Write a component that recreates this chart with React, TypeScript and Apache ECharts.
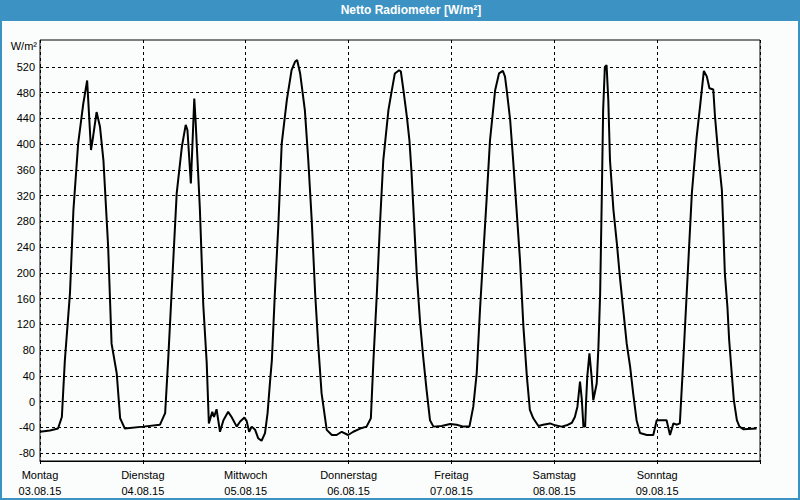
import React, { useEffect, useRef } from "react";
import * as echarts from "echarts";

const chartTitle = "Netto Radiometer [W/m²]";
const unitLabel = "W/m²";
const dayNames = ["Montag", "Dienstag", "Mittwoch", "Donnerstag", "Freitag", "Samstag", "Sonntag"];
const dayDates = ["03.08.15", "04.08.15", "05.08.15", "06.08.15", "07.08.15", "08.08.15", "09.08.15"];

// time in hours since Monday 00:00
const hours = [
  0, 2.3, 4.2, 5.1, 5.8, 7.0, 7.8, 8.9, 10.1, 11.0, 11.9, 12.4, 13.2, 14.0, 14.8, 15.9, 16.7, 17.9, 18.7, 19.8,
  24.1, 28.0, 29.2, 29.9, 31.1, 31.9, 33.1, 34.0, 34.4, 35.2, 35.8, 36.0, 36.3, 37.3, 38.1, 38.9, 39.4, 40.2, 40.6,
  41.2, 42.0, 42.8, 43.9, 44.7, 45.9, 46.7, 47.7, 48.2, 48.8, 49.4, 50.2, 50.9, 51.7, 52.5, 53.1, 53.7, 54.1, 54.8,
  55.6, 56.4, 57.6, 58.7, 59.5, 60.0, 60.7, 61.8, 62.6, 63.4, 64.2, 64.9, 65.7, 66.9, 68.1, 69.2, 70.4, 71.9, 73.1,
  74.7, 76.2, 77.2, 77.8, 78.6, 79.3, 80.1, 81.3, 82.1, 82.8, 83.8, 84.2, 84.8, 85.6, 86.2, 86.7, 87.1, 87.9, 88.7,
  89.4, 90.2, 91.0, 91.8, 93.7, 95.7, 97.2, 98.8, 100.2, 101.1, 101.9, 102.7, 103.4, 104.2, 105.0, 106.2, 107.1,
  108.0, 108.5, 108.9, 109.7, 110.4, 111.2, 112.0, 112.8, 113.6, 114.3, 115.1, 116.3, 117.4, 119.0, 120.2, 121.7,
  122.9, 124.1, 124.8, 125.4, 126.0, 126.4, 126.8, 127.2, 127.4, 127.7, 128.2, 128.7, 129.1, 129.9, 130.3, 130.7,
  131.1, 131.4, 131.8, 132.2, 132.6, 133.0, 133.8, 134.6, 135.3, 136.1, 136.9, 137.7, 138.4, 139.2, 140.0, 141.6,
  143.1, 143.9, 146.2, 147.0, 147.8, 148.6, 149.3, 150.1, 150.9, 152.1, 153.2, 154.0, 154.9, 155.6, 156.2, 157.1,
  157.5, 158.3, 159.1, 159.4, 159.8, 160.4, 160.8, 161.4, 161.9, 162.6, 163.2, 164.1, 167.2,
];

const values = [
  -47, -45, -42, -24, 64, 169, 298, 401, 463, 499, 391, 412, 450, 427, 375, 241, 90, 44, -26, -42,
  -39, -36, -18, 64, 220, 324, 396, 430, 422, 339, 438, 471, 437, 300, 150, 60, -34, -16, -24,
  -12, -47, -29, -16, -24, -39, -31, -25, -30, -47, -39, -44, -57, -61, -49, -18, 33, 64, 168,
  272, 401, 469, 515, 528, 531, 510, 453, 375, 282, 168, 90, 13, -44, -52, -52, -47, -52, -47,
  -42, -39, -26, 64, 168, 272, 375, 453, 484, 510, 515, 513, 484, 443, 406, 355, 303, 199, 122,
  70, 18, -29, -39, -38, -35, -36, -39, -39, -8, 44, 147, 225, 313, 406, 484, 510,
  514, 505, 484, 438, 375, 298, 220, 116, 39, -13, -26, -38, -36, -34, -37, -39,
  -37, -33, -24, -8, 31, 5, -39, -39, -3, 39, 75, 39, 2, 28, 85, 168,
  324, 453, 520, 523, 469, 375, 298, 246, 194, 142, 90, 54, 13, -29, -49, -52,
  -52, -29, -29, -52, -34, -36, -34, 64, 168, 324, 410, 458, 514, 505, 487, 485,
  443, 381, 329, 277, 199, 147, 96, 44, 2, -29, -39, -43, -42,
];

const yMin = -80;
const yMax = 520;
const yStep = 40;
const xMaxHours = 168;
const xStepHours = 24;

const FONT = '"Liberation Sans", Arial, sans-serif';

export default function App() {
  const ref = useRef<HTMLDivElement>(null);

  useEffect(() => {
    if (!ref.current) return;
    const chart = echarts.init(ref.current, null, { renderer: "svg" });
    const dashed = { color: "#000", width: 1, type: [3, 3] as any };
    chart.setOption({
      animation: false,
      backgroundColor: "#fbfdfc",
      textStyle: { fontFamily: FONT },
      grid: [
        { left: 40, right: 40, top: 40, bottom: 39, show: true, borderColor: "#000", borderWidth: 1, backgroundColor: "transparent" },
        { left: 40, right: 40, top: 67, bottom: 47 },
      ],
      xAxis: [
        {
          gridIndex: 0,
          type: "value",
          min: 0,
          max: xMaxHours,
          interval: xStepHours,
          axisLine: { show: true, lineStyle: { color: "#000", width: 1 } },
          axisTick: { show: true, length: 3, lineStyle: { color: "#000" } },
          splitLine: { show: true, lineStyle: dashed },
          axisLabel: {
            color: "#000",
            fontSize: 11,
            fontFamily: FONT,
            lineHeight: 16,
            margin: 6,
            formatter: (v: number) => {
              const i = Math.round(v / xStepHours);
              if (i < 0 || i >= dayNames.length) return "";
              return dayNames[i] + "\n" + dayDates[i];
            },
          },
        },
        { gridIndex: 1, type: "value", min: 0, max: xMaxHours, show: false },
      ],
      yAxis: [
        { gridIndex: 0, type: "value", min: 0, max: 1, show: false },
        {
          gridIndex: 1,
          type: "value",
          min: yMin,
          max: yMax,
          interval: yStep,
          axisLine: { show: false },
          axisTick: { show: false },
          axisLabel: { color: "#000", fontSize: 11, fontFamily: FONT, margin: 5 },
          splitLine: { show: true, lineStyle: dashed },
        },
      ],
      series: [
        {
          type: "line",
          xAxisIndex: 1,
          yAxisIndex: 1,
          data: hours.map((h, i) => [h, values[i]]),
          symbol: "none",
          showSymbol: false,
          clip: false,
          lineStyle: { color: "#000", width: 2 },
          z: 5,
        },
      ],
      graphic: [
        { type: "rect", z: 100, shape: { x: 0, y: 0, width: 800, height: 21 }, style: { fill: "#3c92c3" } },
        {
          type: "rect",
          z: 100,
          shape: { x: 1, y: 1, width: 798, height: 498 },
          style: { fill: "none", stroke: "#3c92c3", lineWidth: 2 },
        },
        {
          type: "text",
          z: 101,
          x: 411,
          y: 10,
          style: {
            text: chartTitle,
            fill: "#fff",
            font: 'bold 12px "Liberation Sans", Arial, sans-serif',
            textAlign: "center",
            textVerticalAlign: "middle",
            align: "center",
            verticalAlign: "middle",
          },
        },
        {
          type: "text",
          z: 101,
          x: 37,
          y: 46,
          style: {
            text: unitLabel,
            fill: "#000",
            font: '11px "Liberation Sans", Arial, sans-serif',
            textAlign: "right",
            textVerticalAlign: "middle",
            align: "right",
            verticalAlign: "middle",
          },
        },
      ],
    });
    return () => chart.dispose();
  }, []);

  return (
    <div
      ref={ref}
      style={{ position: "fixed", left: 0, top: 0, width: 800, height: 500 }}
    />
  );
}
